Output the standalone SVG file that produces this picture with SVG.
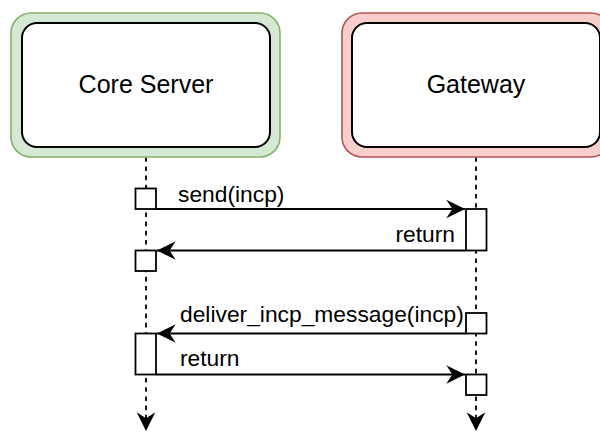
<svg xmlns="http://www.w3.org/2000/svg" width="600" height="433" viewBox="0 0 600 433">
  <defs>
    <marker id="head" markerUnits="userSpaceOnUse" markerWidth="22" markerHeight="22" viewBox="-18 -10 20 20" refX="0" refY="0" orient="auto">
      <path d="M0,0 L-17,-8.5 L-11.5,0 L-17,8.5 Z" fill="#000"/>
    </marker>
  </defs>
  <style>
    .outer-green { fill: #d5e8d4; stroke: #82b366; stroke-width: 1.6; }
    .outer-red { fill: #f8cecc; stroke: #b85450; stroke-width: 1.6; }
    .inner { fill: #ffffff; stroke: #000000; stroke-width: 2; }
    .title { font-family: "Liberation Sans", Arial, sans-serif; font-size: 25px; fill: #000; text-anchor: middle; }
    .label { font-family: "Liberation Sans", Arial, sans-serif; font-size: 22.8px; fill: #000; }
    .life { stroke: #000; stroke-width: 1.8; stroke-dasharray: 4.6 4.6; fill: none; }
    .msg { stroke: #000; stroke-width: 1.8; fill: none; }
    .act { fill: #ffffff; stroke: #000; stroke-width: 1.8; }
  </style>

  <!-- lifelines -->
  <g id="lifelines">
    <line class="life" x1="146" y1="148" x2="146" y2="431" marker-end="url(#head)"/>
    <line class="life" x1="476" y1="148" x2="476" y2="431" marker-end="url(#head)"/>
  </g>

  <g id="core-server">
    <rect class="outer-green" x="11" y="13" width="269" height="144" rx="20" ry="20"/>
    <rect class="inner" x="22" y="23" width="248" height="124" rx="15" ry="15"/>
    <text class="title" x="146" y="93">Core Server</text>
  </g>

  <g id="gateway">
    <rect class="outer-red" x="342" y="13" width="269" height="144" rx="20" ry="20"/>
    <rect class="inner" x="352" y="23" width="248" height="124" rx="15" ry="15"/>
    <text class="title" x="476" y="93">Gateway</text>
  </g>

  <!-- activation bars -->
  <g id="core-act-1"><rect class="act" x="135.5" y="188.5" width="20.5" height="20.5"/></g>
  <g id="gateway-act-1"><rect class="act" x="466" y="209" width="20.5" height="41.5"/></g>
  <g id="core-act-2"><rect class="act" x="135.5" y="250.5" width="20.5" height="20.5"/></g>
  <g id="gateway-act-2"><rect class="act" x="466" y="313" width="20.5" height="20.5"/></g>
  <g id="core-act-3"><rect class="act" x="135.5" y="333.5" width="20.5" height="41"/></g>
  <g id="gateway-act-3"><rect class="act" x="466" y="374.5" width="20.5" height="20.5"/></g>

  <!-- messages -->
  <g id="connectors">
    <line class="msg" x1="156" y1="209" x2="465" y2="209" marker-end="url(#head)"/>
    <text class="label" x="178" y="202">send(incp)</text>
    <line class="msg" x1="466" y1="250.5" x2="157" y2="250.5" marker-end="url(#head)"/>
    <text class="label" x="455" y="242" text-anchor="end">return</text>
    <line class="msg" x1="466" y1="333.5" x2="157" y2="333.5" marker-end="url(#head)"/>
    <text class="label" x="180" y="322">deliver_incp_message(incp)</text>
    <line class="msg" x1="156" y1="374.5" x2="465" y2="374.5" marker-end="url(#head)"/>
    <text class="label" x="180" y="366">return</text>
  </g>
</svg>
